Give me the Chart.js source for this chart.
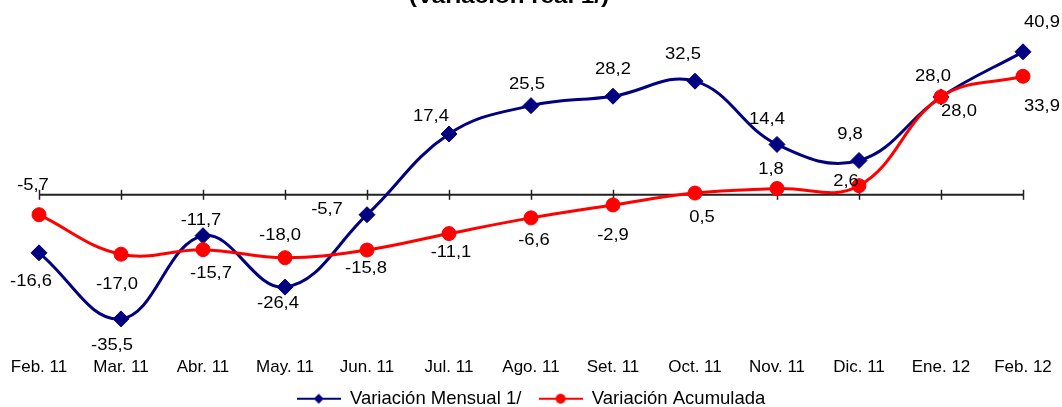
<!DOCTYPE html>
<html>
<head>
<meta charset="utf-8">
<script src="https://cdn.jsdelivr.net/npm/chart.js@4.4.0/dist/chart.umd.min.js"></script>
<style>
  html, body { margin: 0; padding: 0; background: #fff; overflow: hidden; }
  #wrap { width: 1062px; height: 418px; position: relative; }
</style>
</head>
<body>
<div id="wrap"><canvas id="chart"></canvas></div>
<script>
const months = ['Feb. 11', 'Mar. 11', 'Abr. 11', 'May. 11', 'Jun. 11', 'Jul. 11', 'Ago. 11',
  'Set. 11', 'Oct. 11', 'Nov. 11', 'Dic. 11', 'Ene. 12', 'Feb. 12'];
const mensual = [-16.6, -35.5, -11.7, -26.4, -5.7, 17.4, 25.5, 28.2, 32.5, 14.4, 9.8, 28.0, 40.9];
const acumulada = [-5.7, -17.0, -15.7, -18.0, -15.8, -11.1, -6.6, -2.9, 0.5, 1.8, 2.6, 28.0, 33.9];
const seriesNames = ['Variación Mensual 1/', 'Variación Acumulada'];
const titleText = '(Variación real 1/)';

// where each value label sits relative to its point (dx, dy)
const offMensual = [[-8, 29], [-9, 27], [-2, -15], [-7, 17], [-40, -5], [-18, -17], [-4, -21],
  [0, -27], [-12, -27], [-10, -25], [-9, -26], [-8, -20], [19, -29]];
const offAcum = [[-6, -29], [-4, 30], [8, 24], [-5, -22], [-1, 19], [2, 19], [3, 23],
  [0, 31], [7, 25], [-6, -19], [-13, -4], [18, 15], [19, 30]];

const BLUE = '#000080';
const RED = '#ff0000';

function fmt(v) {
  return v.toFixed(1).replace('.', ',');
}

// little legend swatch: line with marker on it
function swatch(color, style) {
  const c = document.createElement('canvas');
  c.width = 44; c.height = 14;
  const g = c.getContext('2d');
  g.strokeStyle = color; g.lineWidth = 2;
  g.beginPath(); g.moveTo(0, 7); g.lineTo(44, 7); g.stroke();
  g.fillStyle = color;
  g.beginPath();
  if (style == 'diamond') {
    g.moveTo(22, 2); g.lineTo(27, 7); g.lineTo(22, 12); g.lineTo(17, 7);
  } else {
    g.arc(22, 7, 5, 0, Math.PI * 2);
  }
  g.fill();
  return c;
}
const swatches = [swatch(BLUE, 'diamond'), swatch(RED, 'circle')];

const zeroAxis = {
  id: 'zeroAxis',
  beforeDatasetsDraw(chart) {
    const {ctx, chartArea, scales} = chart;
    const y0 = scales.y.getPixelForValue(0);
    ctx.save();
    ctx.strokeStyle = '#222';
    ctx.lineWidth = 2;
    ctx.beginPath();
    ctx.moveTo(chartArea.left, y0);
    ctx.lineTo(chartArea.right + 1, y0);
    ctx.stroke();
    ctx.lineWidth = 1.5;
    for (let i = 0; i < months.length; i++) {
      const x = Math.round(scales.x.getPixelForValue(i)) + 0.5;
      ctx.beginPath();
      ctx.moveTo(x, y0 - 5);
      ctx.lineTo(x, y0 + 5);
      ctx.stroke();
    }
    ctx.restore();
  }
};

const valueLabels = {
  id: 'valueLabels',
  afterDatasetsDraw(chart) {
    const ctx = chart.ctx;
    const offs = [offMensual, offAcum];
    ctx.save();
    ctx.fillStyle = '#000';
    ctx.font = '16px "Liberation Sans", Arial, sans-serif';
    ctx.textAlign = 'center';
    ctx.textBaseline = 'middle';
    chart.data.datasets.forEach((ds, di) => {
      const meta = chart.getDatasetMeta(di);
      meta.data.forEach((pt, i) => {
        const o = offs[di][i];
        ctx.save();
        ctx.translate(pt.x + o[0], pt.y + o[1]);
        ctx.scale(1.15, 1);
        ctx.fillText(fmt(ds.data[i]), 0, 0);
        ctx.restore();
      });
    });
    ctx.restore();
  }
};

const cutTitle = {
  id: 'cutTitle',
  afterDraw(chart) {
    const ctx = chart.ctx;
    ctx.save();
    ctx.fillStyle = '#000';
    ctx.font = 'bold 21px "Liberation Sans", Arial, sans-serif';
    ctx.textAlign = 'center';
    ctx.textBaseline = 'alphabetic';
    ctx.translate(509, 3);
    ctx.scale(1.15, 1);
    ctx.fillText(titleText, 0, 0);
    ctx.restore();
  }
};

new Chart(document.getElementById('chart'), {
  type: 'line',
  data: {
    labels: months,
    datasets: [
      {
        label: seriesNames[0],
        data: mensual,
        order: 1,
        borderColor: BLUE,
        backgroundColor: BLUE,
        borderWidth: 3,
        tension: 0.4,
        pointStyle: 'rectRot',
        pointRadius: 8,
        pointBorderWidth: 1,
        pointBackgroundColor: BLUE,
        pointBorderColor: BLUE
      },
      {
        label: seriesNames[1],
        data: acumulada,
        order: 0,
        borderColor: RED,
        backgroundColor: RED,
        borderWidth: 3,
        tension: 0.4,
        pointStyle: 'circle',
        pointRadius: 7,
        pointBorderWidth: 1,
        pointBackgroundColor: RED,
        pointBorderColor: RED
      }
    ]
  },
  options: {
    responsive: true,
    maintainAspectRatio: false,
    animation: false,
    layout: { padding: { top: 20, left: 39, right: 39, bottom: 0 } },
    plugins: {
      title: { display: false },
      tooltip: { enabled: false },
      legend: {
        position: 'bottom',
        labels: {
          color: '#000',
          font: { size: 18.5, family: '"Liberation Sans", Arial, sans-serif' },
          usePointStyle: true,
          pointStyleWidth: 44,
          padding: 7,
          generateLabels(chart) {
            return chart.data.datasets.map((ds, i) => ({
              // a bit of room after the first entry
              text: i == 0 ? ds.label + '\u00a0\u00a0' : ds.label,
              pointStyle: swatches[i],
              fillStyle: ds.borderColor,
              strokeStyle: ds.borderColor,
              lineWidth: 0,
              hidden: false,
              datasetIndex: i,
              fontColor: '#000'
            }));
          }
        }
      }
    },
    scales: {
      x: {
        grid: { display: false, drawTicks: false },
        border: { display: false },
        ticks: {
          color: '#000',
          padding: 5,
          maxRotation: 0,
          autoSkip: false,
          font: { size: 17, family: '"Liberation Sans", Arial, sans-serif' }
        }
      },
      y: {
        display: false,
        min: -45,
        max: 50
      }
    }
  },
  plugins: [zeroAxis, valueLabels, cutTitle]
});
</script>
</body>
</html>
